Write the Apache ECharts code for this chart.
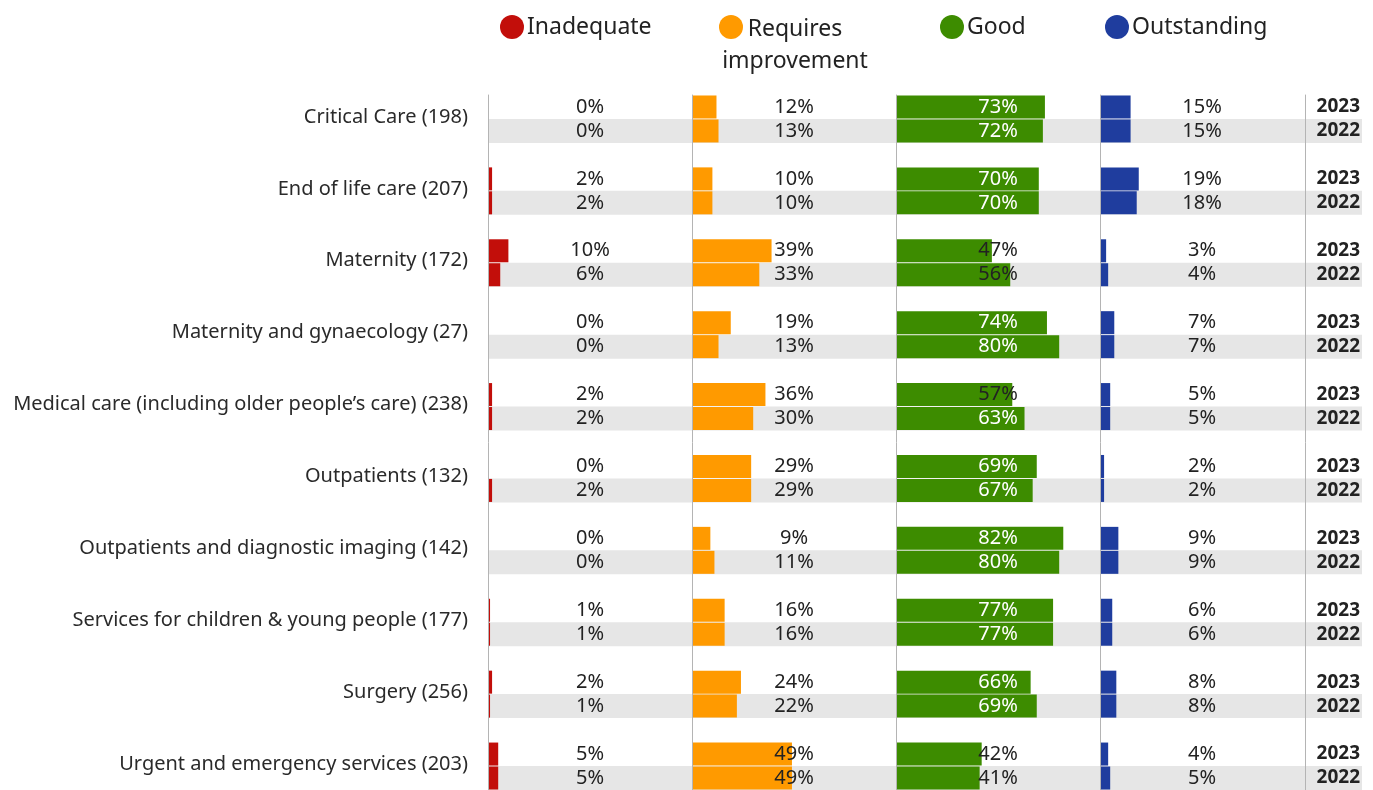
<!DOCTYPE html>
<html>
<head>
<meta charset="utf-8">
<script src="https://cdn.jsdelivr.net/npm/echarts@6/dist/echarts.min.js"></script>
<style>
html,body{margin:0;padding:0;background:#fff;}
#chart{width:1373px;height:790px;}
</style>
</head>
<body>
<div id="chart"></div>
<script>
const categories = [
  'Critical Care (198)',
  'End of life care (207)',
  'Maternity (172)',
  'Maternity and gynaecology (27)',
  'Medical care (including older people\u2019s care) (238)',
  'Outpatients (132)',
  'Outpatients and diagnostic imaging (142)',
  'Services for children & young people (177)',
  'Surgery (256)',
  'Urgent and emergency services (203)'
];
const years = ['2023', '2022'];
const ratings = ['Inadequate', 'Requires improvement', 'Good', 'Outstanding'];
const legendLabels = ['Inadequate', 'Requires\nimprovement', 'Good', 'Outstanding'];

const inadequate2023 = [0, 2, 10, 0, 2, 0, 0, 1, 2, 5];
const inadequate2022 = [0, 2, 6, 0, 2, 2, 0, 1, 1, 5];
const requires2023   = [12, 10, 39, 19, 36, 29, 9, 16, 24, 49];
const requires2022   = [13, 10, 33, 13, 30, 29, 11, 16, 22, 49];
const good2023       = [73, 70, 47, 74, 57, 69, 82, 77, 66, 42];
const good2022       = [72, 70, 56, 80, 63, 67, 80, 77, 69, 41];
const outstanding2023 = [15, 19, 3, 7, 5, 2, 9, 6, 8, 4];
const outstanding2022 = [15, 18, 4, 7, 5, 2, 9, 6, 8, 5];

const colors = ['#c20e0a', '#ff9a00', '#3d8c00', '#1f3d9e'];
const panelLeft = [488, 692, 896, 1100];
const panelWidth = 204;
const gridTop = 95;
const gridH = 695;

// slots: per category [2023, 2022, gap]; final gap dropped
const slotIds = [];
categories.forEach((c, i) => { slotIds.push('c' + i + 'a', 'c' + i + 'b', 'c' + i + 'g'); });
slotIds.pop();

function slotData(v23, v22, whiteAbove) {
  const out = [];
  for (let i = 0; i < categories.length; i++) {
    [v23[i], v22[i]].forEach(v => {
      const item = { value: v };
      if (whiteAbove !== undefined) {
        item.label = { color: v >= whiteAbove ? '#ffffff' : '#222222' };
      }
      out.push(item);
    });
    out.push('-');
  }
  out.pop();
  return out;
}
const bandData = [];
for (let i = 0; i < categories.length; i++) { bandData.push('-', 1, '-'); }
bandData.pop();

const seriesValues = [
  slotData(inadequate2023, inadequate2022),
  slotData(requires2023, requires2022),
  slotData(good2023, good2022, 60),
  slotData(outstanding2023, outstanding2022)
];

const FONT = 'Noto Sans';
const grid = [], xAxis = [], yAxis = [], series = [];

// background band grid (index 0)
grid.push({ left: 488, width: 874, top: gridTop, height: gridH });
xAxis.push({ gridIndex: 0, type: 'value', min: 0, max: 1, show: false });
yAxis.push({
  gridIndex: 0, type: 'category', data: slotIds, inverse: true, position: 'right', z: 10,
  axisLine: { show: false }, axisTick: { show: false }, splitLine: { show: false },
  axisLabel: {
    inside: true, margin: 2, interval: 0, fontFamily: FONT, fontSize: 19, fontWeight: 'bold', color: '#222',
    formatter: (v) => (v.endsWith('a') ? years[0] : (v.endsWith('b') ? years[1] : ''))
  }
});
series.push({
  type: 'bar', xAxisIndex: 0, yAxisIndex: 0, data: bandData, barWidth: 24,
  itemStyle: { color: '#e6e6e6' }, silent: true, z: 1
});

for (let p = 0; p < 4; p++) {
  const gi = p + 1;
  grid.push({ left: panelLeft[p], width: panelWidth, top: gridTop, height: gridH });
  xAxis.push({ gridIndex: gi, type: 'value', min: 0, max: 100, show: false });
  yAxis.push({
    gridIndex: gi, type: 'category', data: slotIds, inverse: true,
    axisLine: { show: true, lineStyle: { color: '#b4b4b4', width: 1 } },
    axisTick: { show: false }, splitLine: { show: false },
    axisLabel: p === 0 ? {
      show: true, interval: 0, margin: 20, fontFamily: FONT, fontSize: 20, color: '#2a2a2a',
      verticalAlign: 'top',
      formatter: (v) => (v.endsWith('a') ? categories[parseInt(v.slice(1), 10)] : '')
    } : { show: false },
    z: 5
  });
  series.push({
    name: ratings[p], type: 'bar', xAxisIndex: gi, yAxisIndex: gi,
    data: seriesValues[p], barWidth: 23, z: 3,
    itemStyle: { color: colors[p] },
    label: {
      show: true, position: [102, '50%'], align: 'center', verticalAlign: 'middle',
      fontFamily: FONT, fontSize: 20, color: '#222', formatter: '{c}%'
    }
  });
}

// year separator line
grid.push({ left: 1305, width: 57, top: gridTop, height: gridH });
xAxis.push({ gridIndex: 5, type: 'value', min: 0, max: 1, show: false });
yAxis.push({
  gridIndex: 5, type: 'category', data: slotIds, inverse: true,
  axisLine: { show: true, lineStyle: { color: '#b4b4b4', width: 1 } },
  axisTick: { show: false }, axisLabel: { show: false }, splitLine: { show: false }, z: 5
});

// legend as graphic
const legendPos = [[512, 27], [731, 27], [952, 27], [1117, 27]];
const graphic = [];
for (let p = 0; p < 4; p++) {
  graphic.push({
    type: 'circle', shape: { cx: legendPos[p][0], cy: legendPos[p][1], r: 12 },
    style: { fill: colors[p] }
  });
  if (p === 1) {
    graphic.push({
      type: 'text', x: 795, y: 13,
      style: { text: legendLabels[p], fontFamily: FONT, fontSize: 23, fill: '#222', align: 'center', verticalAlign: 'top', lineHeight: 32 }
    });
  } else {
    graphic.push({
      type: 'text', x: legendPos[p][0] + 15, y: legendPos[p][1],
      style: { text: legendLabels[p], fontFamily: FONT, fontSize: 23, fill: '#222', align: 'left', verticalAlign: 'middle' }
    });
  }
}

const chart = echarts.init(document.getElementById('chart'), null, { renderer: 'canvas' });
chart.setOption({
  backgroundColor: '#ffffff',
  animation: false,
  grid, xAxis, yAxis, series, graphic
});
</script>
</body>
</html>
